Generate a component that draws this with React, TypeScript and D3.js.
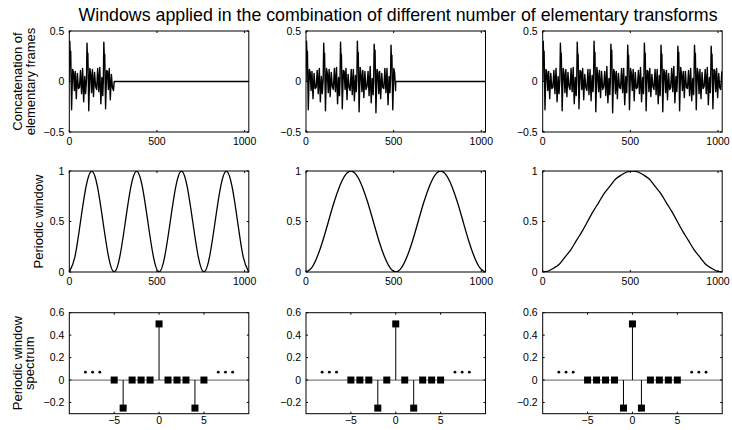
import React from "react";
import * as d3 from "d3";

// ---------- data ----------
const title = "Windows applied in the combination of different number of elementary transforms";
const rowLabels = [
  ["Concatenation of", "elementary frames"],
  ["Periodic window"],
  ["Periodic window", "spectrum"],
];

const timeTicks = [0, 500, 1000];
const signalYTicks = [-0.5, 0, 0.5];
const windowYTicks = [0, 0.5, 1];
const spectrumXTicks = [-5, 0, 5];
const spectrumYTicks = [-0.2, 0, 0.2, 0.4, 0.6];

// frame lengths (samples) shown in each column
const frameLengths = [256, 512, 1024];

// elementary frame signal: period starts, offsets inside a period, values per period
const periodStarts = [0, 98, 194, 290, 386, 482, 577, 672, 768, 863, 958];
const periodOffsets = [0, 3, 6, 8, 13, 19, 24, 29, 34, 40, 46, 52, 58, 64, 70, 76, 82, 88, 93];
const periodValues = [
  [0, 0.40, 0.21, 0.30, -0.28, 0.12, 0.09, -0.09, 0.10, -0.17, 0.08, -0.07, -0.06, 0.11, -0.12, 0.13, -0.20, 0.05, -0.12],
  [0.02, 0.38, 0.20, 0.28, -0.29, 0.13, 0.08, -0.11, 0.12, -0.15, 0.09, -0.05, -0.08, 0.13, -0.10, 0.14, -0.22, 0.04, -0.14],
  [0, 0.39, 0.22, 0.27, -0.27, 0.11, 0.10, -0.08, 0.13, -0.18, 0.07, -0.06, -0.09, 0.12, -0.13, 0.12, -0.19, 0.06, -0.10],
  [0.01, 0.40, 0.19, 0.29, -0.30, 0.14, 0.07, -0.10, 0.11, -0.16, 0.10, -0.08, -0.05, 0.10, -0.14, 0.15, -0.21, 0.03, -0.13],
  [0, 0.37, 0.21, 0.31, -0.31, 0.12, 0.09, -0.12, 0.10, -0.17, 0.08, -0.06, -0.07, 0.13, -0.11, 0.13, -0.23, 0.05, -0.11],
  [0.02, 0.36, 0.20, 0.26, -0.28, 0.13, 0.08, -0.09, 0.12, -0.19, 0.09, -0.07, -0.06, 0.11, -0.12, 0.14, -0.20, 0.04, -0.12],
  [0, 0.38, 0.22, 0.28, -0.29, 0.11, 0.10, -0.10, 0.13, -0.15, 0.07, -0.05, -0.08, 0.12, -0.13, 0.12, -0.22, 0.06, -0.14],
  [0.01, 0.36, 0.19, 0.27, -0.30, 0.12, 0.09, -0.11, 0.11, -0.18, 0.08, -0.08, -0.06, 0.13, -0.10, 0.15, -0.21, 0.05, -0.10],
  [0, 0.35, 0.21, 0.29, -0.29, 0.14, 0.07, -0.09, 0.10, -0.16, 0.10, -0.06, -0.07, 0.11, -0.14, 0.13, -0.19, 0.03, -0.13],
  [0.01, 0.36, 0.20, 0.28, -0.28, 0.13, 0.08, -0.12, 0.12, -0.17, 0.09, -0.07, -0.05, 0.12, -0.12, 0.14, -0.23, 0.04, -0.11],
  [0, 0.35, 0.22, 0.27, -0.27, 0.12, 0.10, -0.10, 0.13, -0.16, 0.08, -0.06, -0.08, 0.10],
];

// periodic windows, sampled every 32 samples (0..1024)
const windowStep = 32;
const window1 = [0, 0.15, 0.5, 0.85, 1, 0.85, 0.5, 0.15, 0, 0.15, 0.5, 0.85, 1, 0.85, 0.5, 0.15, 0, 0.15, 0.5, 0.85, 1, 0.85, 0.5, 0.15, 0, 0.15, 0.5, 0.85, 1, 0.85, 0.5, 0.15, 0];
const window2 = [0, 0.04, 0.15, 0.31, 0.5, 0.69, 0.85, 0.96, 1, 0.96, 0.85, 0.69, 0.5, 0.31, 0.15, 0.04, 0, 0.04, 0.15, 0.31, 0.5, 0.69, 0.85, 0.96, 1, 0.96, 0.85, 0.69, 0.5, 0.31, 0.15, 0.04, 0];
const window3 = [0, 0.01, 0.04, 0.08, 0.15, 0.22, 0.31, 0.4, 0.5, 0.6, 0.69, 0.78, 0.85, 0.92, 0.96, 0.99, 1, 0.99, 0.96, 0.92, 0.85, 0.78, 0.69, 0.6, 0.5, 0.4, 0.31, 0.22, 0.15, 0.08, 0.04, 0.01, 0];
const windows = [window1, window2, window3];

// window spectra
const spectrumX = [-5, -4, -3, -2, -1, 0, 1, 2, 3, 4, 5];
const spectrum1 = [0, -0.25, 0, 0, 0, 0.5, 0, 0, 0, -0.25, 0];
const spectrum2 = [0, 0, 0, -0.25, 0, 0.5, 0, -0.25, 0, 0, 0];
const spectrum3 = [0, 0, 0, 0, -0.25, 0.5, -0.25, 0, 0, 0, 0];
const spectra = [spectrum1, spectrum2, spectrum3];
const ellipsisX = [-8.2, -7.4, -6.6, 6.6, 7.4, 8.2];
const ellipsisY = 0.07;

// ---------- layout ----------
const W = 732;
const H = 430;
const colLeft = [69.3, 306, 542.7];
const colWidth = 179.5;
const rowTop = [31, 171, 312.7];
const rowHeight = 101;
const FONT = "'Liberation Sans', Arial, Helvetica, sans-serif";
const tickFont = 10.5;

const fmt = (v: number) => {
  const s = String(Math.round(v * 100) / 100);
  return s.replace("-", "\u2212");
};

type PanelProps = {
  x: d3.ScaleLinear<number, number>;
  y: d3.ScaleLinear<number, number>;
  xTicks: number[];
  yTicks: number[];
  xLabelOffset: number;
  children?: React.ReactNode;
  clipId: string;
};

function Panel({ x, y, xTicks, yTicks, xLabelOffset, children, clipId }: PanelProps) {
  const [x0, x1] = x.range();
  const [y0, y1] = y.range(); // y0 bottom, y1 top
  const tl = 2;
  return (
    <g>
      <defs>
        <clipPath id={clipId}>
          <rect x={x0} y={y1} width={x1 - x0} height={y0 - y1} />
        </clipPath>
      </defs>
      <g clipPath={`url(#${clipId})`}>{children}</g>
      <rect x={x0} y={y1} width={x1 - x0} height={y0 - y1} fill="none" stroke="#000" strokeWidth={1} />
      {xTicks.map((t) => (
        <g key={"xt" + t}>
          <line x1={x(t)} x2={x(t)} y1={y0} y2={y0 - tl} stroke="#000" />
          <line x1={x(t)} x2={x(t)} y1={y1} y2={y1 + tl} stroke="#000" />
          <text x={x(t)} y={y0 + xLabelOffset} fontSize={tickFont} textAnchor="middle" fontFamily={FONT}>
            {fmt(t)}
          </text>
        </g>
      ))}
      {yTicks.map((t) => (
        <g key={"yt" + t}>
          <line x1={x0} x2={x0 + tl} y1={y(t)} y2={y(t)} stroke="#000" />
          <line x1={x1} x2={x1 - tl} y1={y(t)} y2={y(t)} stroke="#000" />
          <text x={x0 - 5} y={y(t)} dy="0.36em" fontSize={tickFont} textAnchor="end" fontFamily={FONT}>
            {fmt(t)}
          </text>
        </g>
      ))}
    </g>
  );
}

export default function App() {
  // build the signal from per-period readings
  const signal: [number, number][] = [];
  periodStarts.forEach((s, i) => {
    periodValues[i].forEach((v, j) => signal.push([s + periodOffsets[j], v]));
  });

  const rowLabelCenters = rowTop.map((t) => t + rowHeight / 2);
  const labelBaselines = [
    [21.7, 34.5],
    [43.3],
    [21.7, 34.3],
  ];

  return (
    <svg width={W} height={H} style={{ position: "absolute", left: 0, top: 0, background: "#fff" }}>
      <rect width={W} height={H} fill="#fff" />
      <text x={398} y={21} fontSize={17.8} textAnchor="middle" fontFamily={FONT}>
        {title}
      </text>
      {rowLabels.map((lines, r) =>
        lines.map((ln, k) => (
          <text
            key={r + "-" + k}
            transform={`translate(${labelBaselines[r][k]},${rowLabelCenters[r]}) rotate(-90)`}
            fontSize={13}
            textAnchor="middle"
            fontFamily={FONT}
          >
            {ln}
          </text>
        ))
      )}
      {colLeft.map((cx, c) => {
        const xTime = d3.scaleLinear().domain([0, 1024]).range([cx, cx + colWidth]);
        // row 1: signal
        const y1 = d3.scaleLinear().domain([-0.5, 0.5]).range([rowTop[0] + rowHeight, rowTop[0]]);
        const L = frameLengths[c];
        const pts: [number, number][] = signal.filter((p) => p[0] < L);
        if (L < 1024) {
          pts.push([L, 0]);
          pts.push([1024, 0]);
        }
        const line1 = d3
          .line<[number, number]>()
          .x((d) => xTime(d[0]))
          .y((d) => y1(d[1]));

        // row 2: window
        const y2 = d3.scaleLinear().domain([0, 1]).range([rowTop[1] + rowHeight, rowTop[1]]);
        const xTime2 = xTime.copy();
        const line2 = d3
          .line<number>()
          .x((_, i) => xTime2(i * windowStep))
          .y((d) => y2(d))
          .curve(d3.curveNatural);

        // row 3: spectrum
        const xs = d3.scaleLinear().domain([-10, 10]).range([cx, cx + colWidth]);
        const y3 = d3.scaleLinear().domain([-0.3, 0.6]).range([rowTop[2] + rowHeight, rowTop[2]]);
        const spec = spectra[c];
        const m = 7;

        return (
          <g key={c}>
            <Panel x={xTime} y={y1} xTicks={timeTicks} yTicks={signalYTicks} xLabelOffset={12.8} clipId={"c1" + c}>
              <path d={line1(pts) || ""} fill="none" stroke="#000" strokeWidth={1.4} strokeLinejoin="round" />
            </Panel>
            <Panel x={xTime2} y={y2} xTicks={timeTicks} yTicks={windowYTicks} xLabelOffset={12.5} clipId={"c2" + c}>
              <path d={line2(windows[c]) || ""} fill="none" stroke="#000" strokeWidth={1.3} />
            </Panel>
            <Panel x={xs} y={y3} xTicks={spectrumXTicks} yTicks={spectrumYTicks} xLabelOffset={9.8} clipId={"c3" + c}>
              <line x1={xs(-10)} x2={xs(10)} y1={y3(0)} y2={y3(0)} stroke="#808080" strokeWidth={1.2} />
              {spec.map((v, i) => (
                <line key={"s" + i} x1={xs(spectrumX[i])} x2={xs(spectrumX[i])} y1={y3(0)} y2={y3(v)} stroke="#000" strokeWidth={1} />
              ))}
              {spec.map((v, i) => (
                <rect key={"m" + i} x={xs(spectrumX[i]) - m / 2} y={y3(v) - m / 2} width={m} height={m} fill="#000" />
              ))}
              {ellipsisX.map((ex, i) => (
                <circle key={"e" + i} cx={xs(ex)} cy={y3(ellipsisY)} r={1.4} fill="#000" />
              ))}
            </Panel>
          </g>
        );
      })}
    </svg>
  );
}
